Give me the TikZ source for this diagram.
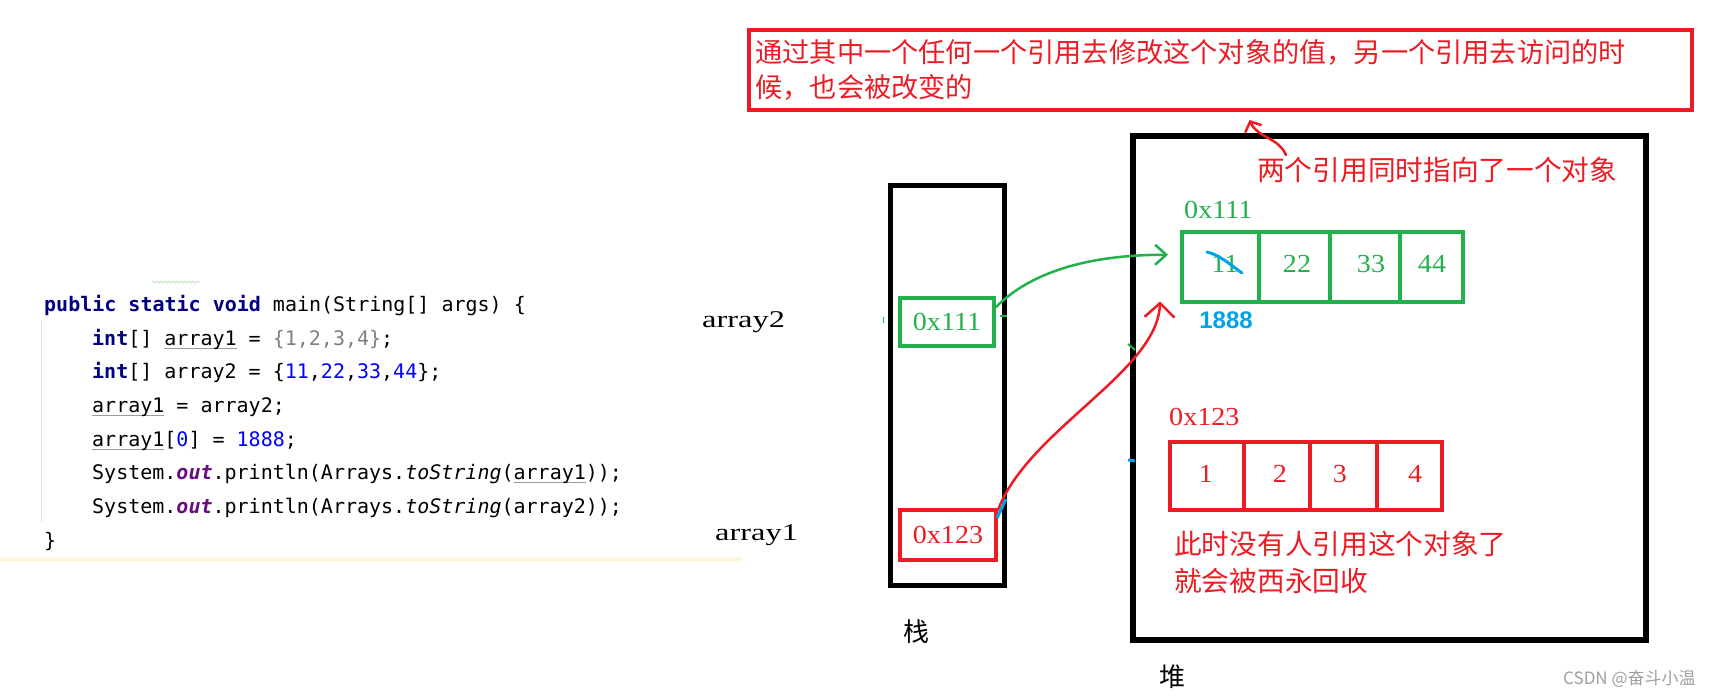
\documentclass[tikz,border=0pt]{standalone}
\usepackage{fontspec}
\usetikzlibrary{arrows.meta,decorations.pathmorphing}

\setmainfont{Liberation Serif}
\newfontfamily\cjk{Noto Sans CJK SC}
\newfontfamily\codefont{DejaVu Sans Mono}
\newfontfamily\simfont[FakeStretch=1.08]{Liberation Serif}
\newfontfamily\labelfont[FakeStretch=1.35]{Liberation Serif}
\newfontfamily\handfont{Liberation Sans}

\definecolor{paintred}{HTML}{ED1C24}
\definecolor{paintgreen}{HTML}{22B14C}
\definecolor{paintblue}{HTML}{00A2E8}
\definecolor{kwnavy}{HTML}{000080}
\definecolor{numblue}{HTML}{0000FF}
\definecolor{codegray}{HTML}{808080}
\definecolor{fieldpurple}{HTML}{660E7A}
\definecolor{ulgray}{HTML}{9A9A9A}
\definecolor{guidegray}{HTML}{E2E2E2}
\definecolor{bandyellow}{HTML}{FDF6E1}
\definecolor{wavegreen}{HTML}{B8DDB8}
\definecolor{wmgray}{HTML}{A0A0A0}

% code highlighting
\newcommand\kw[1]{{\bfseries\color{kwnavy}#1}}
\newcommand\num[1]{{\color{numblue}#1}}
\newcommand\fld[1]{{\bfseries\itshape\color{fieldpurple}#1}}
\newsavebox\ulbox
\newcommand\grayul[1]{\sbox\ulbox{#1}\rlap{\textcolor{ulgray}{\rule[-4pt]{\wd\ulbox}{1.2pt}}}\usebox\ulbox}

\tikzset{
    memframe/.style={draw, inner sep=0pt, anchor=north west},
    addrbox/.style={draw, line width=4pt, inner sep=0pt, anchor=north west,
        font=\simfont\fontsize{26}{30}\selectfont},
    arrcell/.style={draw, line width=3.5pt, inner sep=0pt, anchor=north west},
    numtext/.style={inner sep=0pt, font=\simfont\fontsize{26}{30}\selectfont},
    cjktext/.style={inner sep=0pt, font=\cjk\fontsize{27.7}{37}\selectfont},
    codeline/.style={anchor=base west, inner sep=0pt, font=\codefont\fontsize{20}{24}\selectfont},
    redpen/.style={paintred, line width=2.5pt, line cap=round},
    greenpen/.style={paintgreen, line width=2.5pt, line cap=round},
    bluepen/.style={paintblue, line width=3pt, line cap=round}
}

\begin{document}
\begin{tikzpicture}[x=1pt,y=-1pt]
    \fill[white] (0,0) rectangle (1715,697);
    \useasboundingbox (0,0) rectangle (1715,697);

    % Code on the left
    \draw[guidegray, line width=1pt] (41,320) -- (41,522);
    \fill[bandyellow] (0,557) rectangle (742,562);
    \draw[wavegreen, line width=0.7pt, decorate, decoration={snake, segment length=4pt, amplitude=1pt}] (152,282) -- (200,282);
    \node[codeline] (code1) at (44,311) {\kw{public static void} main(String[] args) \{};
    \node[codeline] (code2) at (92,345) {\kw{int}[] \grayul{array1} = {\color{codegray}\{1,2,3,4\}};};
    \node[codeline] (code3) at (92,378) {\kw{int}[] array2 = \{\num{11},\num{22},\num{33},\num{44}\};};
    \node[codeline] (code4) at (92,412) {\grayul{array1} = array2;};
    \node[codeline] (code5) at (92,446) {\grayul{array1}[\num{0}] = \num{1888};};
    \node[codeline] (code6) at (92,479) {System.\fld{out}.println(Arrays.{\itshape toString}(\grayul{array1}));};
    \node[codeline] (code7) at (92,513) {System.\fld{out}.println(Arrays.{\itshape toString}(array2));};
    \node[codeline] (code8) at (44,547) {\}};

    % Stack
    \node[memframe, line width=5pt, minimum width=114, minimum height=400] (stack) at (888,183) {};
    \node[addrbox, draw=paintgreen, text=paintgreen, minimum width=94, minimum height=48] (stackA2) at (898,296) {0x111};
    \node[addrbox, draw=paintred, text=paintred, minimum width=96, minimum height=50] (stackA1) at (898,508) {0x123};
    \node[anchor=west, inner sep=0pt, font=\labelfont\fontsize{24}{28}\selectfont] (lblA2) at (702,322) {array2};
    \node[anchor=west, inner sep=0pt, font=\labelfont\fontsize{24}{28}\selectfont] (lblA1) at (715,535) {array1};
    \node[cjktext, font=\cjk\fontsize{26}{30}\selectfont] (stacklbl) at (916,632) {栈};

    % Heap
    \node[memframe, line width=6pt, minimum width=513, minimum height=504] (heap) at (1130,133) {};
    \node[cjktext, font=\cjk\fontsize{26}{30}\selectfont] (heaplbl) at (1172,677) {堆};

    % Array 0x111
    \node[numtext, anchor=west, text=paintgreen] (addrG) at (1184,210) {0x111};
    \foreach \n/\l/\w/\t/\v in {1/1180/77/1225/11, 2/1257/71/1297/22, 3/1328/70/1371/33, 4/1398/63/1432/44}{
        \node[arrcell, draw=paintgreen, minimum width=\w, minimum height=70] (g\n) at (\l,230) {};
        \node[numtext, text=paintgreen] (gv\n) at (\t,264) {\v};
    }

    % Array 0x123
    \node[numtext, anchor=west, text=paintred] (addrR) at (1169,417) {0x123};
    \foreach \n/\l/\w/\t/\v in {1/1168/74/1206/1, 2/1242/66/1280/2, 3/1308/67/1340/3, 4/1375/65/1415/4}{
        \node[arrcell, draw=paintred, minimum width=\w, minimum height=68] (r\n) at (\l,440) {};
        \node[numtext, text=paintred] (rv\n) at (\t,474) {\v};
    }

    % Notes
    \node[memframe, draw=paintred, line width=4pt, minimum width=943, minimum height=80,
        text width=930pt, align=left, text=paintred, cjktext, font=\cjk\fontsize{27.2}{35}\selectfont] (topnote) at (747,28)
        {通过其中一个任何一个引用去修改这个对象的值，另一个引用去访问的时\\候，也会被改变的};
    \node[cjktext, anchor=west, text=paintred] (bothnote) at (1257,170) {两个引用同时指向了一个对象};
    \node[cjktext, anchor=north west, align=left, text=paintred] (gcnote) at (1174,531)
        {此时没有人引用这个对象了\\就会被西永回收};

    % Hand drawn edits
    \draw[bluepen] (1207,252) .. controls (1220,255) and (1232,266) .. (1242,273);
    \node[inner sep=0pt, text=paintblue, font=\handfont\bfseries\fontsize{24}{28}\selectfont] (newval) at (1226,320) {1888};

    % References
    \draw[greenpen, -{Straight Barb[length=11pt,width=20pt]}] ([yshift=-11pt]stackA2.north east)
        .. controls +(35,-35) and +(-80,0) .. ([xshift=-12pt,yshift=12pt]g1.west);
    \draw[redpen, -{Straight Barb[length=14pt,width=30pt]}] ([yshift=-2pt]stackA1.north east)
        .. controls +(30,-80) and +(-2,70) .. ([xshift=-20pt,yshift=2pt]g1.south west);
    \draw[redpen, -{Straight Barb[length=8pt,width=18pt]}] ([xshift=29pt,yshift=15pt]bothnote.west)
        .. controls +(-8,-18) and +(8,18) .. ([xshift=29pt,yshift=-8pt]topnote.south);

    % Stray pen marks
    \draw[paintgreen, line width=2pt] (1000,316) -- (1007,316);
    \draw[paintgreen, line width=2pt] (1128,344) -- (1135,350);
    \draw[paintblue, line width=3pt] (1128,460) -- (1135,461);
    \draw[paintblue, line width=3pt] (997,518) -- (1006,499);
    \draw[paintgreen, line width=1pt] (883,317) -- (883,323);

    % Watermark
    \node[anchor=west, inner sep=0pt, text=wmgray, font=\cjk\fontsize{17}{20}\selectfont] (watermark) at (1563,679) {CSDN @奋斗小温};
\end{tikzpicture}
\end{document}
